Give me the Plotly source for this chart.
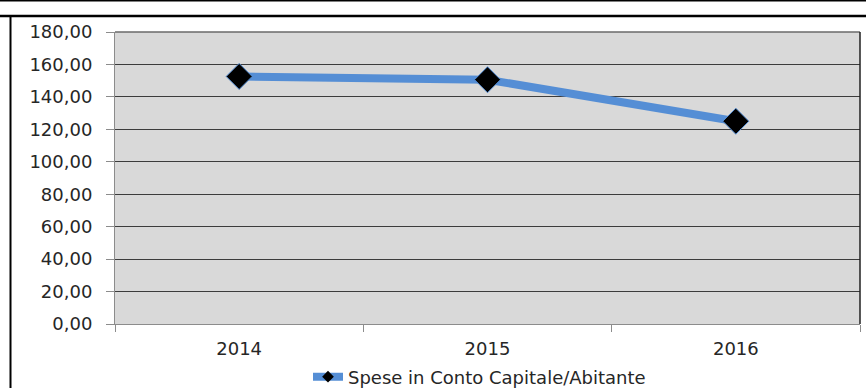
import plotly.graph_objects as go

# Spese in conto capitale per abitante
anni = ["2014", "2015", "2016"]
spese_per_abitante = [152.6, 150.6, 125.0]
y_ticks = [0, 20, 40, 60, 80, 100, 120, 140, 160, 180]
y_tick_labels = ["0,00", "20,00", "40,00", "60,00", "80,00", "100,00",
                 "120,00", "140,00", "160,00", "180,00"]
nome_serie = "Spese in Conto Capitale/Abitante"

W, H = 866, 388
L, R, T, B = 115, 6, 32, 64
plot_w, plot_h = W - L - R, H - T - B

LINE_BLUE = "#558ed5"
FONT = "DejaVu Sans"

fig = go.Figure()

fig.add_trace(go.Scatter(
    x=anni, y=spese_per_abitante,
    mode="lines+markers",
    line=dict(color=LINE_BLUE, width=8),
    marker=dict(symbol="diamond", size=20, color="black",
                line=dict(color=LINE_BLUE, width=1)),
    showlegend=False,
))

# legend entry with a smaller marker, as in the spreadsheet legend
fig.add_trace(go.Scatter(
    x=[None], y=[None],
    mode="lines+markers",
    name=nome_serie,
    line=dict(color=LINE_BLUE, width=8),
    marker=dict(symbol="diamond", size=9, color="black"),
))


def px_x(px):
    return (px - L) / plot_w


def px_y(py):
    return (H - B - py) / plot_h


shapes = [
    # outer chart frame
    dict(type="line", xref="paper", yref="paper",
         x0=px_x(-5), x1=px_x(W + 5), y0=px_y(16), y1=px_y(16),
         line=dict(color="black", width=2.5)),
    dict(type="line", xref="paper", yref="paper",
         x0=px_x(10.5), x1=px_x(10.5), y0=px_y(16), y1=px_y(H + 5),
         line=dict(color="black", width=2)),
    dict(type="line", xref="paper", yref="paper",
         x0=px_x(-5), x1=px_x(W + 5), y0=px_y(0.5), y1=px_y(0.5),
         line=dict(color="black", width=2)),
    # plot area border
    dict(type="line", xref="paper", yref="paper",
         x0=0, x1=1, y0=1, y1=1, line=dict(color="#6a6a6a", width=1.5)),
    dict(type="line", xref="paper", yref="paper",
         x0=1, x1=1, y0=0, y1=1, line=dict(color="#202020", width=1.5)),
]

fig.update_layout(
    width=W, height=H,
    margin=dict(l=L, r=R, t=T, b=B, pad=0, autoexpand=False),
    paper_bgcolor="white",
    plot_bgcolor="#d9d9d9",
    font=dict(family=FONT, size=18, color="#262626"),
    shapes=shapes,
    legend=dict(
        orientation="h",
        x=px_x(308), xanchor="left",
        y=px_y(377), yanchor="middle",
        font=dict(family=FONT, size=18, color="#262626"),
        bgcolor="rgba(0,0,0,0)",
        itemwidth=30,
    ),
    xaxis=dict(
        type="category",
        range=[-0.5, 2.5],
        showgrid=False,
        showline=True, linecolor="#8c8c8c", linewidth=1,
        ticks="outside", ticklen=7, tickcolor="#8c8c8c",
        tickson="boundaries",
        ticklabelstandoff=8,
        tickfont=dict(family=FONT, size=18, color="#262626"),
        fixedrange=True,
    ),
    yaxis=dict(
        range=[0, 180],
        tickvals=y_ticks, ticktext=y_tick_labels,
        showgrid=True, gridcolor="#3c3c3c", gridwidth=1,
        zeroline=False,
        showline=True, linecolor="#8c8c8c", linewidth=1,
        ticks="outside", ticklen=8, tickcolor="#8c8c8c",
        ticklabelstandoff=10,
        tickfont=dict(family=FONT, size=18, color="#262626"),
        fixedrange=True,
    ),
)

fig.write_html("out.html", config={"displayModeBar": False})
